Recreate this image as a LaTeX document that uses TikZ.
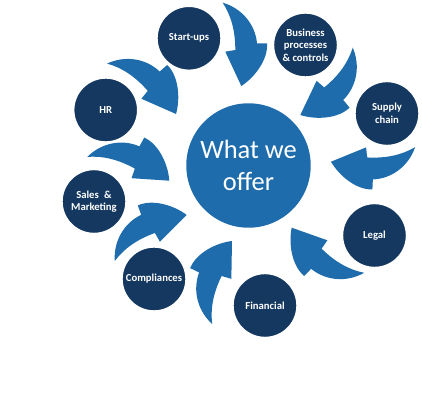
\documentclass[tikz,border=0pt]{standalone}
\usepackage{fontspec}
\setmainfont{Carlito}
\usepackage{tikz}

\definecolor{navy}{RGB}{21,56,96}
\definecolor{offerblue}{RGB}{30,108,172}

\tikzset{
    bendarrow/.pic={
        \fill[offerblue] (-18.6,-83.3) .. controls (0,-78) and (14,-62) .. (15.7,-42.7)
            -- (25.7,-42.7) .. controls (27,-27) and (14,-9) .. (0,0)
            -- (-16,-34.3) -- (-6,-36) .. controls (-6,-55) and (-10,-70) .. (-18.6,-83.3) -- cycle;
    },
    topic/.style={circle, fill=navy, draw=white, line width=1pt, minimum size=45.5pt,
        inner sep=0pt, text=white, align=center, font=\fontsize{7.6}{8.9}\selectfont\bfseries},
    hub/.style={circle, fill=offerblue, minimum size=88.5pt, inner sep=0pt,
        text=white, align=center, font=\fontsize{18.8}{22.7}\selectfont}
}

\begin{document}
\begin{tikzpicture}[x=0.025cm, y=-0.025cm]
    \useasboundingbox (0,0) rectangle (422,412);

    % Curved arrows
    \foreach \x/\y/\a in {241.3/86/0, 300.3/115/-50.5, 331/161.7/-92.8, 291.7/227.7/-134.5,
                          232/241/154, 186.7/215/110, 169.3/180.7/61.2, 176/114/41.2} {
        \pic[rotate=\a] at (\x,\y) {bendarrow};
    }

    % Centre
    \node[hub] (offer) at (248.5,165.5) {What we\\offer};

    % Topics
    \node[topic] (startups) at (189,38.3) {Start-ups};
    \node[topic] (business) at (305.5,45) {Business\\processes\\\& controls};
    \node[topic] (supply) at (387,113.5) {Supply\\chain};
    \node[topic] (legal) at (374.5,235.5) {Legal};
    \node[topic] (financial) at (265,305.5) {Financial};
    \node[topic] (compliances) at (154,279) {Compliances};
    \node[topic] (sales) at (94,201.5) {Sales\enspace\&\\Marketing};
    \node[topic] (hr) at (105.7,110) {HR};
\end{tikzpicture}
\end{document}
